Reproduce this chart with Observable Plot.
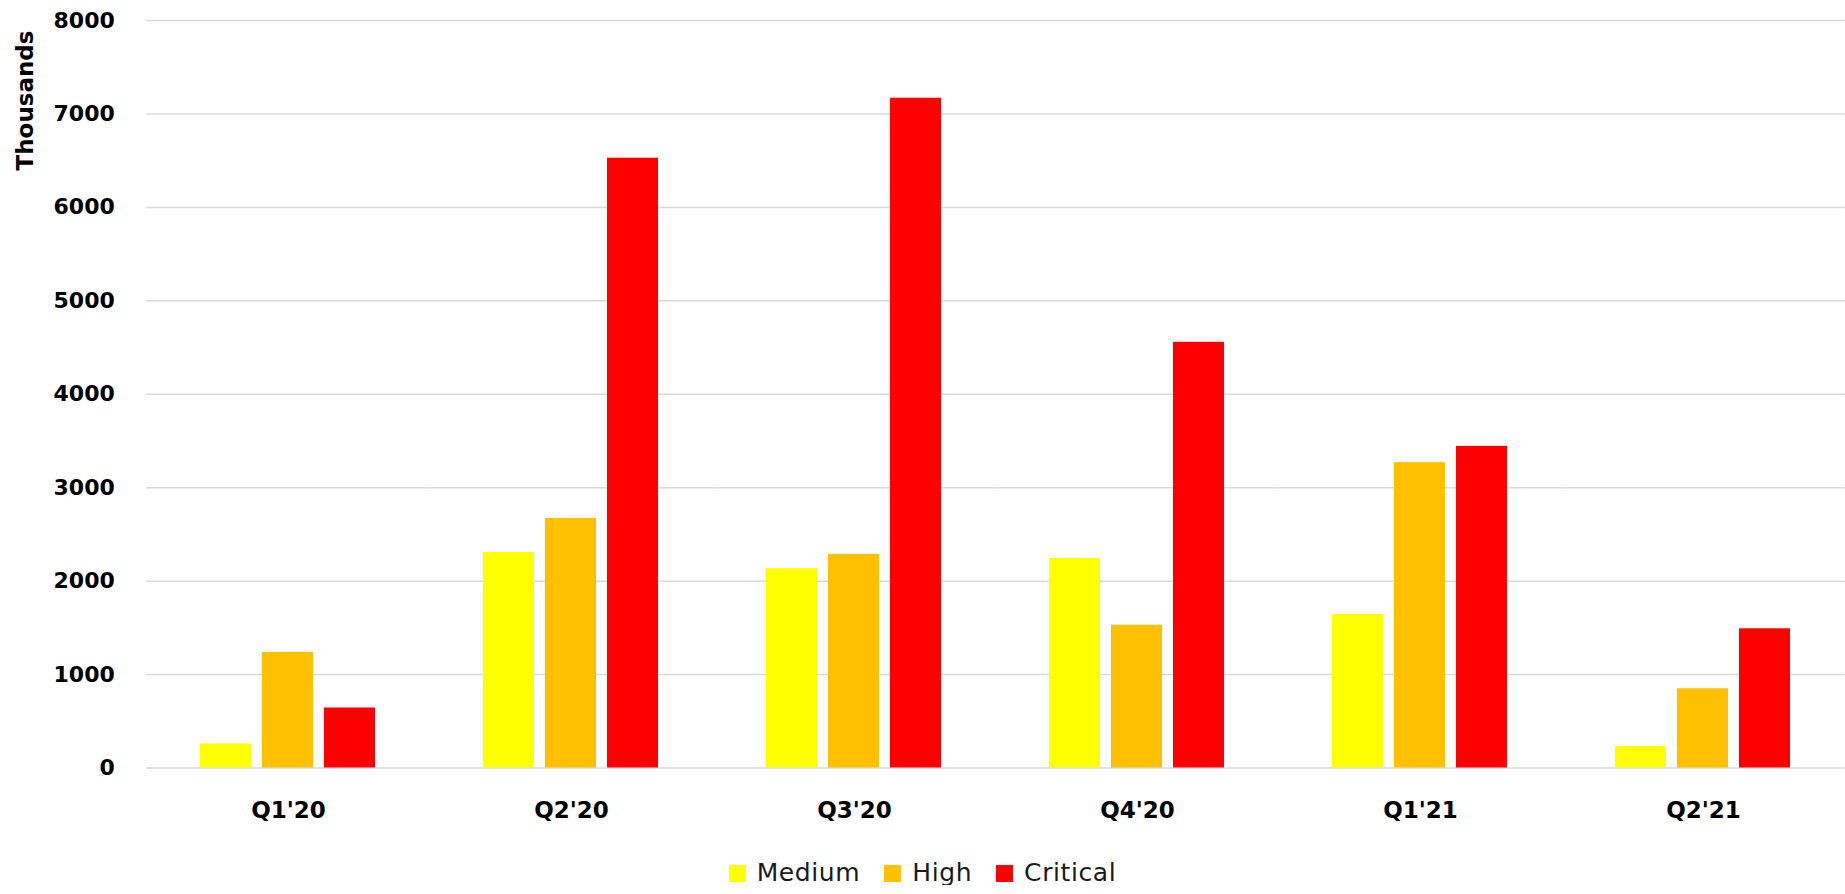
<!DOCTYPE html>
<html>
<head>
<meta charset="utf-8">
<script src="https://cdn.jsdelivr.net/npm/d3@7"></script>
<script src="https://cdn.jsdelivr.net/npm/@observablehq/plot@0.6"></script>
<style>
  html, body { margin: 0; padding: 0; background: #fff; }
  #chart svg { display: block; }
  .legend { width: 1845px; display: flex; justify-content: center; align-items: center; padding-top: 21px;
    font-family: "DejaVu Sans", sans-serif; font-size: 25px; letter-spacing: 0.6px; color: #1a1a1a; line-height: 24px; }
  .legend .item { display: flex; align-items: center; margin: 0 12px 0 12px; }
  .legend .sw { width: 17px; height: 17px; margin-right: 11px; }
</style>
</head>
<body>
<div id="chart"></div>
<div class="legend" id="legend"></div>
<script>
const quarters = ["Q1'20", "Q2'20", "Q3'20", "Q4'20", "Q1'21", "Q2'21"];
const severities = ["Medium", "High", "Critical"];
const medium = [257, 2307, 2133, 2243, 1643, 230];
const high = [1237, 2671, 2286, 1528, 3268, 848];
const critical = [642, 6526, 7168, 4556, 3442, 1490];
const colors = ["#FFFF00", "#FFC000", "#FF0000"];
const yTicks = [0, 1000, 2000, 3000, 4000, 5000, 6000, 7000, 8000];

const series = [medium, high, critical];
const data = [];
quarters.forEach((q, i) => {
  severities.forEach((s, j) => data.push({quarter: q, severity: s, value: series[j][i]}));
});

const W = 1845, ML = 145;
const fxPadInner = 0.372, fxPadOuter = 0.186;
const step = (W - ML) / (quarters.length - fxPadInner + 2 * fxPadOuter);
const halfGap = fxPadOuter * step; // extends each facet's gridlines to touch its neighbours

const chart = Plot.plot({
  width: W,
  height: 840,
  marginLeft: ML,
  marginRight: 0,
  marginTop: 20,
  marginBottom: 72.5,
  style: {fontFamily: "DejaVu Sans, sans-serif", background: "#fff", color: "#000"},
  fx: {domain: quarters, paddingInner: fxPadInner, paddingOuter: fxPadOuter, label: null},
  x: {domain: severities, paddingInner: 0.17, paddingOuter: 0, axis: null},
  y: {domain: [0, 8000], label: null},
  color: {domain: severities, range: colors},
  marks: [
    Plot.ruleY(yTicks, {stroke: "#d9d9d9", strokeWidth: 1.5, insetLeft: -halfGap, insetRight: -halfGap}),
    Plot.axisY(yTicks, {tickSize: 0, tickPadding: 32 + halfGap, fontSize: 22, fontWeight: "bold", label: null, tickFormat: d3.format("d")}),
    Plot.axisFx({anchor: "bottom", tickSize: 0, tickPadding: 34, fontSize: 23, fontWeight: "bold", label: null}),
    Plot.barY(data, {fx: "quarter", x: "severity", y: "value", fill: "severity"}),
    Plot.text(["Thousands"], {frameAnchor: "top-left", rotate: -90, dx: -121 - halfGap, dy: 80, fontSize: 23, fontWeight: "bold", fill: "#000", textAnchor: "middle", lineAnchor: "middle", facetAnchor: "left"})
  ]
});
document.getElementById("chart").appendChild(chart);

const legend = document.getElementById("legend");
severities.forEach((s, i) => {
  const item = document.createElement("div");
  item.className = "item";
  const sw = document.createElement("span");
  sw.className = "sw";
  sw.style.background = colors[i];
  const t = document.createElement("span");
  t.textContent = s;
  item.appendChild(sw);
  item.appendChild(t);
  legend.appendChild(item);
});
</script>
</body>
</html>
